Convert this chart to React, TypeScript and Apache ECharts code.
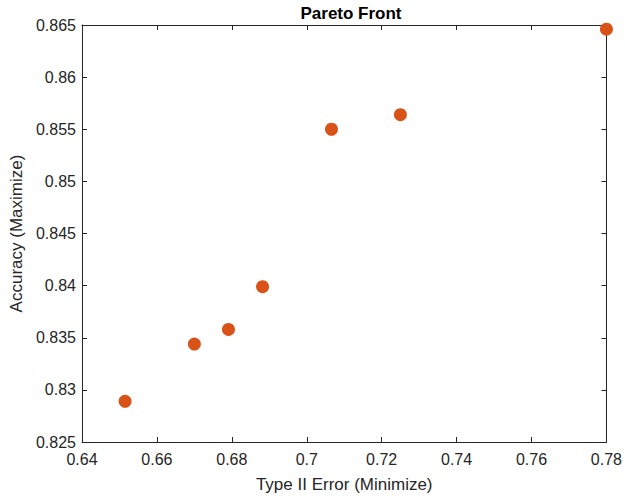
import React, { useEffect, useRef } from "react";
import * as echarts from "echarts";

const typeIIError = [0.6515, 0.67, 0.6791, 0.6882, 0.7066, 0.725, 0.78];
const accuracy = [0.8289, 0.8344, 0.8358, 0.8399, 0.855, 0.8564, 0.8646];
const xTicks = { min: 0.64, max: 0.78, interval: 0.02 };
const yTicks = { min: 0.825, max: 0.865, interval: 0.005 };

const FONT = "'Liberation Sans', Arial, Helvetica, sans-serif";
const AXC = "#262626";

export default function App() {
  const ref = useRef<HTMLDivElement>(null);
  useEffect(() => {
    const chart = echarts.init(ref.current!, null, { renderer: "svg" });
    const fmt = (v: number) => String(parseFloat(v.toFixed(4)));
    const baseAxis = (labels: boolean) => ({
      scale: true,
      axisLine: { show: true, onZero: false, lineStyle: { color: AXC, width: 1 } },
      axisTick: { show: true, inside: true, length: 5, lineStyle: { color: AXC } },
      axisLabel: labels
        ? { show: true, color: AXC, fontFamily: FONT, fontSize: 16, formatter: fmt }
        : { show: false },
      splitLine: { show: false },
    });
    chart.setOption({
      animation: false,
      backgroundColor: "#ffffff",
      title: {
        text: "Pareto Front",
        left: 346,
        top: 0,
        textAlign: "center",
        textStyle: { fontFamily: FONT, fontSize: 17, fontWeight: "bold", color: "#000" },
      },
      grid: { left: 82, right: 15, top: 25, bottom: 61 },
      xAxis: [
        {
          ...baseAxis(true),
          type: "value",
          position: "bottom",
          ...xTicks,
          name: "Type II Error (Minimize)",
          nameLocation: "middle",
          nameGap: 34,
          nameTextStyle: { fontFamily: FONT, fontSize: 17, color: AXC },
          axisLabel: { show: true, color: AXC, fontFamily: FONT, fontSize: 16, margin: 9, formatter: fmt },
        },
        { ...baseAxis(false), type: "value", position: "top", ...xTicks },
      ],
      yAxis: [
        {
          ...baseAxis(true),
          type: "value",
          position: "left",
          ...yTicks,
          name: "Accuracy (Maximize)",
          nameLocation: "middle",
          nameGap: 56,
          nameTextStyle: { fontFamily: FONT, fontSize: 17, color: AXC },
          axisLabel: { show: true, color: AXC, fontFamily: FONT, fontSize: 16, margin: 6, formatter: fmt },
        },
        { ...baseAxis(false), type: "value", position: "right", ...yTicks },
      ],
      series: [
        {
          type: "scatter",
          data: typeIIError.map((x, i) => [x, accuracy[i]]),
          symbol: "circle",
          symbolSize: 13,
          itemStyle: { color: "#D95319", opacity: 1 },
          clip: false,
          z: 5,
        },
      ],
    });
    return () => chart.dispose();
  }, []);
  return <div ref={ref} style={{ width: 625, height: 503, position: "absolute", left: 0, top: 0 }} />;
}
